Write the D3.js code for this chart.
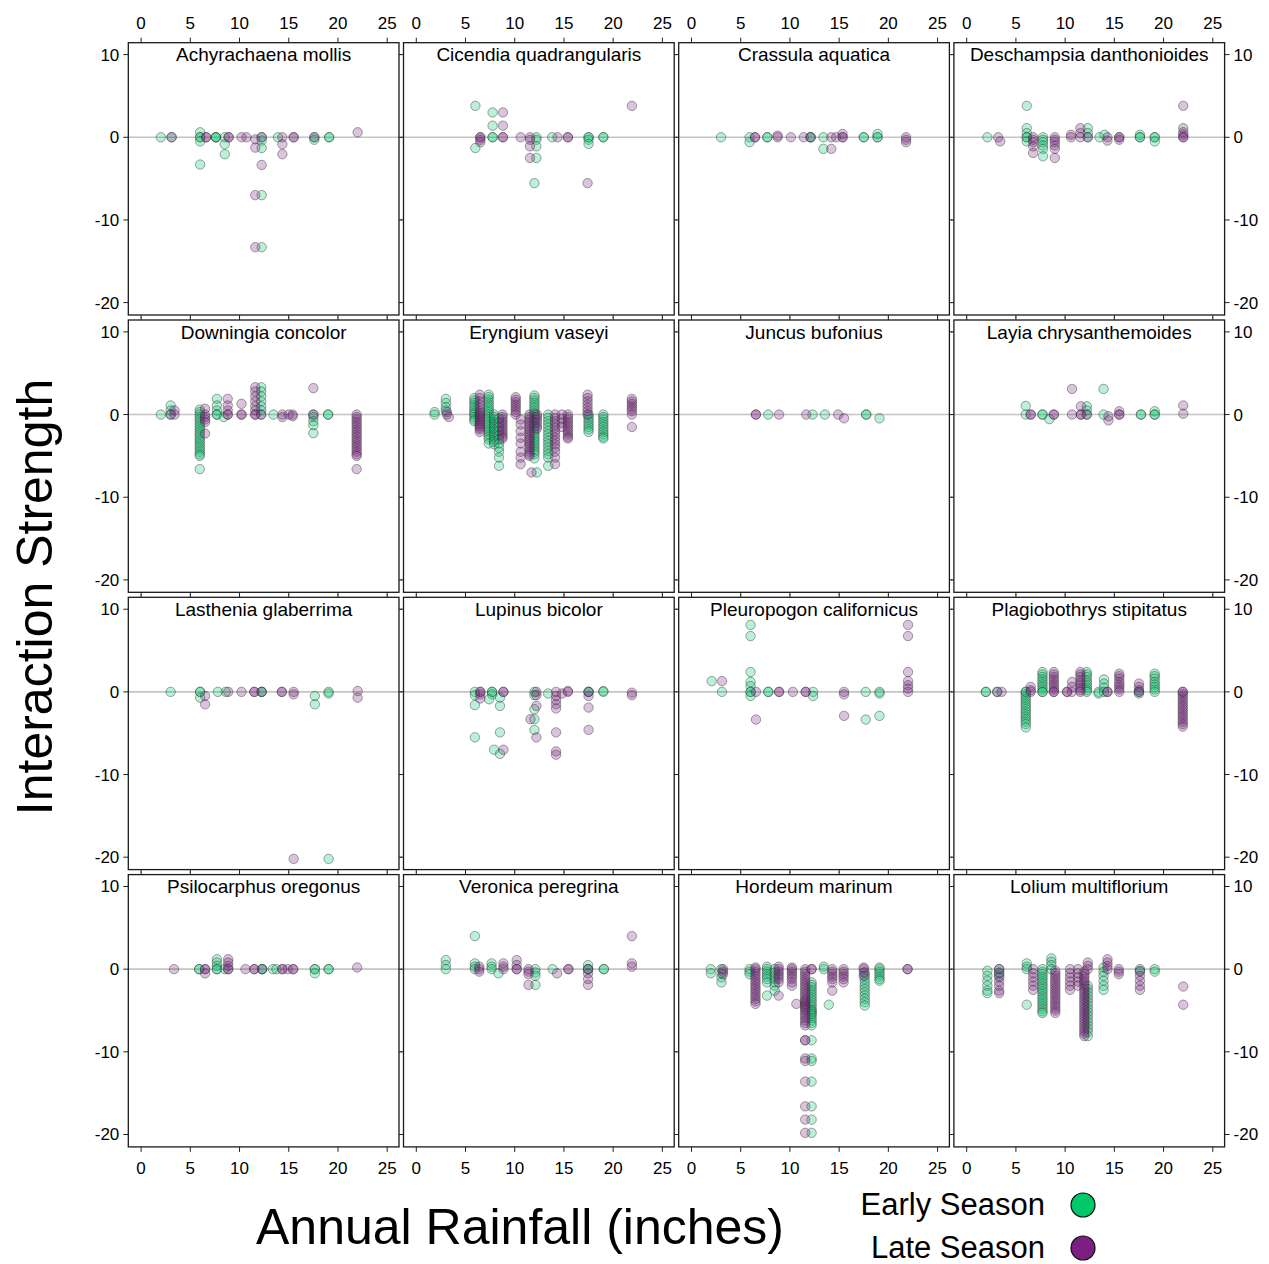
<!DOCTYPE html>
<html><head><meta charset="utf-8">
<script src="https://cdn.jsdelivr.net/npm/d3@7/dist/d3.min.js"></script>
<style>body{margin:0;background:#fff;}svg{display:block;font-family:"Liberation Sans",Arial,sans-serif;}</style>
</head><body>
<svg id="chart" width="1269" height="1264"></svg>
<script>
// ---------- data ----------
const species = ["Achyrachaena mollis","Cicendia quadrangularis","Crassula aquatica","Deschampsia danthonioides",
 "Downingia concolor","Eryngium vaseyi","Juncus bufonius","Layia chrysanthemoides",
 "Lasthenia glaberrima","Lupinus bicolor","Pleuropogon californicus","Plagiobothrys stipitatus",
 "Psilocarphus oregonus","Veronica peregrina","Hordeum marinum","Lolium multiflorium"];
const seasons = ["Early Season","Late Season"];
const xTicks = [0,5,10,15,20,25];
const yTicks = [10,0,-10,-20];

// each entry: [annual rainfall, [interaction strengths observed at that rainfall]]
const earlyData = [
 [[2.0,[0]],[3.1,[0]],[6.0,[0.6,0,0,-0.5,-3.3]],[7.6,[0,0,0]],[8.5,[0,-0.85,-2.05]],[12.25,[0,-0.4,-1.3,-7.0,-13.3]],[13.9,[0]],[17.6,[0,-0.3]],[19.1,[0,0]]],
 [[6.0,[3.8,-1.3]],[7.75,[3.0,1.4,0,0]],[12.2,[0,-0.3,-1.1,-2.5]],[12.0,[-5.55]],[13.8,[0]],[17.5,[0,0,-0.3,-0.8]],[19.0,[0,0]]],
 [[3.0,[0]],[5.9,[0,-0.6]],[7.7,[0,0]],[12.1,[0,0]],[13.4,[0,-1.4]],[17.5,[0,0]],[18.9,[0,0,0.4]]],
 [[2.1,[0]],[6.1,[3.8,1.1,0.5,0,0,-0.5]],[7.75,[0,-0.3,-0.6,-1.0,-1.4,-2.3]],[12.3,[1.1,0.5,0]],[13.5,[0]],[14.0,[0.3]],[17.6,[0.3,0,0]],[19.1,[0,0,-0.5]]],
 [[2.0,[0]],[3.0,[1.1,0.5,0]],[5.96,[0.6,0.3,0,-0.3,-0.6,-0.9,-1.2,-1.5,-1.8,-2.1,-2.4,-2.7,-3.0,-3.3,-3.6,-3.9,-4.2,-4.5,-4.8,-5.0,-6.6]],[7.7,[1.9,1.1,0.5,0,0]],[8.4,[-0.3]],[12.2,[3.3,2.8,2.2,1.6,1.0,0.5,0]],[13.45,[0]],[17.5,[0,-0.3,-0.8,-1.3,-2.25]],[19.0,[0,0]]],
 [[1.86,[0.3,0]],[3.0,[1.9,1.4,0.9,0.5]],[5.9,[2.0,1.7,1.4,1.1,0.8,0.5,0.2,0,-0.3,-0.6,-0.8]],[7.35,[2.4,2.1,1.8,1.5,1.2,0.9,0.6,0.3,0,-0.3,-0.6,-0.9,-1.2,-1.5,-1.8,-2.1,-2.4,-2.7,-3.0,-3.5]],[7.9,[0,-0.3,-0.6,-0.9,-1.2,-1.5,-1.8,-2.1,-2.4,-2.7,-3.0,-3.3,-3.6]],[8.4,[-0.5,-1,-1.5,-2,-2.5,-3,-3.5,-4,-4.5,-5.2,-6.2]],[12.0,[2.3,2.0,1.7,1.4,1.1,0.8,0.5,0.2,0,-0.3,-0.6,-0.9,-1.2,-1.5,-1.8,-2.1,-2.4,-2.7,-3.0,-3.3,-3.6,-3.9,-4.2,-4.5,-4.8,-5.3]],[12.25,[-7.0]],[13.4,[0,-0.4,-0.8,-1.2,-1.6,-2.0,-2.4,-2.8,-3.2,-3.6,-4.0,-4.4,-4.8,-5.2,-6.2]],[17.5,[0,-0.3,-0.6,-0.9,-1.2,-1.5,-1.8,-2.1]],[19.0,[0,-0.3,-0.6,-0.9,-1.2,-1.5,-1.8,-2.1,-2.4,-2.7,-2.9]]],
 [[7.8,[0]],[12.3,[0]],[13.55,[0]],[17.75,[0,0]],[19.1,[-0.45]]],
 [[6.0,[1.05,0]],[7.7,[0,0]],[8.4,[-0.55]],[12.2,[1.0,0.5,0]],[13.9,[3.1,0]],[17.7,[0,0]],[19.1,[0.4,0,0]]],
 [[3.0,[0]],[6.0,[0,0,-0.7]],[7.8,[0]],[8.6,[0]],[12.25,[0,0]],[17.65,[-0.5,-1.5]],[19.05,[0,-0.2,-20.2]]],
 [[5.95,[0,-0.4,-1.6,-5.5]],[7.7,[0,0,-0.3]],[7.4,[-0.9]],[8.5,[-0.7,-1.7,-4.9,-7.5]],[7.9,[-7.0]],[12.0,[0,-0.4,-2.1,-3.3,-4.6]],[13.4,[-0.2]],[17.5,[0,0]],[19.0,[0.1,0]]],
 [[2.05,[1.3]],[3.1,[0]],[6.0,[8.1,6.75,2.4,1.2,0.7,0,0,-0.5]],[7.8,[0,0]],[12.35,[0,-0.5]],[17.7,[0,-3.35]],[19.1,[0,-0.2,-2.9]]],
 [[1.95,[0,0]],[3.1,[0]],[6.0,[0,0,-0.3,-0.6,-0.9,-1.2,-1.5,-1.8,-2.1,-2.4,-2.7,-3.0,-3.3,-3.6,-3.9,-4.3]],[7.7,[2.4,2.1,1.8,1.5,1.2,0.9,0.6,0.3,0,0]],[12.2,[2.4,2.1,1.8,1.4,1.1,0.8,0.5,0.2,0]],[13.4,[0,-0.2]],[13.95,[1.5,1.0,0.5,0]],[17.5,[0,-0.2]],[19.1,[2.2,1.9,1.6,1.2,0.9,0.6,0.3,0]]],
 [[5.9,[0,0]],[7.7,[1.2,0.8,0.4,0,0]],[8.5,[0]],[12.3,[0,0]],[13.4,[0]],[13.75,[0]],[17.65,[0,0,-0.5]],[19.05,[0,0]]],
 [[3.0,[1.1,0.5,0]],[5.95,[4.0,0.7,0.3,0]],[7.65,[0.7,0.3,0]],[8.35,[-0.5]],[12.1,[0,-0.4,-0.8,-1.9]],[13.85,[0]],[17.45,[0.5,0,0]],[19.05,[0,0]]],
 [[1.96,[0,-0.5]],[3.04,[0,-0.5,-1.0,-1.6]],[5.9,[0,-0.3,-0.6]],[7.67,[0.3,0,-0.3,-0.6,-0.9,-1.2,-1.6,-3.2]],[8.45,[0,-0.4,-0.8,-1.2,-1.6,-2.0,-2.6]],[12.2,[-1.6,-1.9,-2.2,-2.5,-2.8,-3.1,-3.4,-3.7,-4.0,-4.3,-4.6,-4.9,-5.0,-5.2,-5.4,-5.6,-5.9,-6.2,-6.5,-6.8,-8.6,-10.8,-11.1,-13.6,-16.6,-18.2,-19.8]],[13.45,[0.3,0]],[13.95,[-4.3]],[17.6,[-0.4,-0.8,-1.2,-1.6,-2,-2.4,-2.8,-3.2,-3.6,-4.0,-4.4]],[19.1,[0.2,0,-0.3,-0.6,-0.9,-1.2,-1.4]]],
 [[2.1,[-0.2,-0.8,-1.4,-2.0,-2.6,-2.9]],[3.3,[0,-0.4,-0.8]],[6.1,[0.7,0.3,0,-4.3]],[7.7,[0,-0.3,-0.6,-0.9,-1.2,-1.5,-1.8,-2.1,-2.4,-2.7,-3.0,-3.3,-3.6,-3.9,-4.2,-4.5,-4.8,-5.1,-5.3]],[8.6,[1.3,0.9,0.5,0]],[12.3,[-2.0,-2.4,-2.8,-3.2,-3.6,-4.0,-4.4,-4.8,-5.2,-5.6,-6.0,-6.4,-6.8,-7.2,-7.6,-8.1]],[13.9,[0.2,-0.3,-0.8,-1.4,-2.0,-2.5]],[17.6,[0,-0.3]],[19.1,[0,-0.3]]]
];
const lateData = [
 [[3.1,[0]],[6.6,[0,0]],[8.9,[0,0]],[10.2,[0]],[10.7,[0]],[11.6,[-0.25,-1.25,-7.0,-13.3]],[12.25,[0,-3.35]],[14.35,[0,-0.85,-2.05]],[15.5,[0,0]],[17.6,[0]],[22.0,[0.6]]],
 [[6.5,[0,0,-0.3,-0.6]],[8.8,[3.0,1.4,0,0]],[10.6,[0]],[11.55,[0,-0.3,-1.1,-2.5]],[14.35,[0]],[15.4,[0,0]],[17.4,[-5.55]],[21.9,[3.8]]],
 [[6.45,[0,0]],[8.75,[0,0.2]],[10.1,[0]],[11.4,[0]],[12.1,[0]],[14.2,[0,-1.4]],[14.7,[0]],[15.35,[0,0,0.4]],[21.8,[0,-0.3,-0.6]]],
 [[3.2,[0]],[3.4,[-0.5]],[6.75,[0,-0.3,-0.6,-1.1,-1.9]],[8.95,[0,-0.3,-0.6,-1.0,-1.4,-2.5]],[10.6,[0.3,0]],[11.55,[1.1,0.5,0]],[12.3,[0]],[14.3,[0,-0.4]],[15.5,[0,0,-0.3]],[22.0,[3.8,1.1,0.6,0.3,0,0]]],
 [[3.0,[0]],[3.4,[0.5,0]],[6.5,[0.7,0,-0.3,-0.6,-0.9,-2.3]],[8.8,[1.9,1.1,0.5,0,0]],[10.2,[1.3,0,0]],[11.6,[3.3,2.8,2.2,1.6,1.0,0.5,0,0]],[12.2,[0]],[14.35,[0,-0.3]],[15.0,[0]],[15.4,[0,-0.2]],[17.5,[3.2,0]],[21.9,[0,-0.3,-0.6,-0.9,-1.2,-1.5,-1.8,-2.1,-2.4,-2.7,-3.0,-3.3,-3.6,-3.9,-4.2,-4.5,-4.8,-5.0,-6.6]]],
 [[3.1,[0.3,0]],[3.3,[-0.3]],[6.45,[2.4,2.0,1.6,1.2,0.8,0.4,0.2,0,-0.2,-0.4,-0.6,-0.8,-1.0,-1.2,-1.4,-1.6,-1.8,-2.1]],[8.75,[0,-0.3,-0.6,-0.9,-1.2,-1.5,-1.8,-2.1,-2.4,-2.7,-2.9]],[10.1,[2.1,1.8,1.5,1.2,0.9,0.6,0.3,0]],[10.6,[-0.6,-1.2,-2,-2.8,-3.5,-4.5,-5.2,-6.0]],[11.5,[0,-0.3,-0.6,-0.9,-1.2,-1.5,-1.8,-2.1,-2.4,-2.7,-3.0,-3.3,-3.6,-3.9,-4.2,-4.5,-4.8,-5.0]],[11.7,[-7.0]],[12.25,[0,-0.3,-0.6,-1.0,-1.4,-1.7]],[14.1,[0,-0.4,-0.8,-1.2,-1.6,-2.0,-2.4,-2.8,-3.2,-3.6,-4.0,-4.5,-5.2,-6.0]],[14.8,[0,-0.5,-1.0,-1.5]],[15.4,[0,-0.3,-0.6,-0.9,-1.2,-1.5,-1.8,-2.1,-2.4,-2.7,-2.9]],[17.4,[2.4,2.0,1.6,1.2,0.8,0.4,0]],[21.9,[1.9,1.6,1.3,1.0,0.7,0.4,0,-1.5]]],
 [[6.54,[0,0]],[8.9,[0]],[11.65,[0]],[14.9,[0]],[15.5,[-0.45]]],
 [[6.5,[0,0]],[8.85,[0,0]],[10.7,[3.1,0]],[11.6,[1.0,0,0]],[12.2,[0]],[14.4,[-0.2,-0.7]],[15.5,[0.4,0,0]],[22.0,[1.1,0.1]]],
 [[6.5,[-0.5,-1.5]],[8.85,[0]],[10.2,[0]],[11.5,[0,0]],[12.25,[0]],[14.3,[0,0]],[15.5,[0,-0.3,-20.2]],[22.0,[0.1,-0.7]]],
 [[6.5,[0,0,-0.3,-0.8]],[8.85,[0,0,-7.0]],[11.6,[-3.3]],[12.2,[0,-0.4,-1.7,-5.5]],[14.2,[0,-0.5,-1,-1.5,-2,-4.9,-7.2,-7.6]],[14.8,[-0.2]],[15.4,[0.1,0]],[17.5,[0,-0.5,-1.9,-4.6]],[21.9,[-0.1,-0.4]]],
 [[3.1,[1.3]],[6.55,[0,-3.35]],[8.9,[0,0]],[10.3,[0]],[11.6,[0,0]],[15.5,[0,-0.3,-2.9]],[22.0,[8.1,6.75,2.4,1.3,0.8,0.4,0]]],
 [[3.1,[0]],[3.55,[0]],[6.5,[0.6,0.2,0]],[8.85,[2.4,2.1,1.8,1.5,1.2,0.9,0.6,0.3,0,0]],[10.2,[0,0]],[10.7,[1.2,0.6,0]],[11.55,[2.4,2.1,1.8,1.4,1.1,0.8,0.5,0.2,0]],[14.3,[0,0]],[15.5,[2.2,1.9,1.6,1.2,0.9,0.6,0.3,0]],[17.5,[1.0,0.6,0.2,0]],[21.95,[0,0,-0.3,-0.6,-0.9,-1.2,-1.5,-1.8,-2.1,-2.4,-2.7,-3.0,-3.3,-3.6,-3.9,-4.2]]],
 [[3.35,[0]],[6.5,[0,0,-0.5]],[8.85,[1.2,0.8,0.4,0,0]],[10.6,[0]],[11.5,[0,0]],[12.3,[0]],[14.35,[0,0]],[14.9,[0]],[15.45,[0,0]],[21.95,[0.2]]],
 [[6.4,[0.3,0,-0.3]],[8.85,[0.7,0.3,0]],[10.2,[1.1,0.5,0,0]],[11.4,[0,-0.3,-0.6,-1.9]],[14.3,[-0.5]],[15.45,[0,0]],[17.45,[0,-0.5,-1.2,-1.9]],[21.9,[4.0,0.7,0.3]]],
 [[3.2,[0,-0.3,-0.6]],[6.5,[0.2,0,-0.3,-0.6,-0.9,-1.2,-1.5,-1.8,-2.1,-2.4,-2.7,-3.0,-3.3,-3.6,-3.9,-4.2]],[8.85,[0.3,0,-0.3,-0.6,-0.9,-1.2,-1.6,-3.2]],[10.2,[0.2,0,-0.3,-0.6,-0.9,-1.2,-1.6,-2.0]],[10.65,[-4.2]],[11.55,[0,-0.3,-0.6,-0.9,-1.2,-1.5,-1.8,-2.1,-2.4,-2.7,-3.0,-3.3,-3.6,-3.8,-4.0,-4.2,-4.4,-4.6,-4.8,-5.0,-5.3,-5.6,-5.9,-6.2,-6.5,-6.8,-8.6,-8.6,-10.8,-11.1,-13.6,-16.6,-18.2,-19.8]],[12.2,[0,0]],[14.3,[0,-0.3,-0.6,-0.9,-1.2,-1.6,-2.6]],[15.45,[0,-0.3,-0.6,-0.9,-1.2,-1.6]],[17.5,[0.2,0,-0.4,-0.8]],[21.95,[0,0]]],
 [[3.3,[0,-0.5,-1.0,-1.5,-2.0,-2.6,-2.9]],[6.75,[0,-0.5,-1.0,-1.5,-2.0,-2.5]],[9.0,[-0.2,-0.5,-0.8,-1.1,-1.4,-1.7,-2.0,-2.3,-2.6,-2.9,-3.2,-3.5,-3.8,-4.1,-4.4,-4.7,-5.0,-5.3]],[10.5,[0,-0.5,-1,-1.5,-2.0,-2.5]],[11.3,[0,-0.5,-1.0,-1.5,-2.0]],[11.95,[-0.3,-0.6,-0.9,-1.2,-1.5,-1.8,-2.1,-2.4,-2.7,-3.0,-3.3,-3.6,-3.9,-4.2,-4.5,-4.8,-5.1,-5.4,-5.7,-6.0,-6.3,-6.6,-6.9,-7.2,-7.5,-7.8,-8.1]],[12.3,[0.8,0.4,0]],[14.3,[1.2,0.8,0.4,0]],[15.45,[0,-0.3,-0.6]],[17.6,[-0.2,-0.8,-1.4,-2.0,-2.5]],[22.0,[-2.1,-4.3]]]
];
const seasonColors = ["#00C96B","#7B1F82"];

// ---------- layout ----------
const svg = d3.select("#chart");
const P = {left:128.3, top:42.7, w:270.7, h:272.3, colStep:275.2, rowStep:277.3};
const x = d3.scaleLinear().domain([-1.3,26.2]).range([0,P.w]);
const y = d3.scaleLinear().domain([11.44,-21.5]).range([0,P.h]);
const ncol = 4, nrow = 4;

species.forEach((name,i)=>{
  const col = i%ncol, row = Math.floor(i/ncol);
  const g = svg.append("g").attr("transform",`translate(${P.left+col*P.colStep},${P.top+row*P.rowStep})`);
  g.append("line").attr("x1",0).attr("x2",P.w).attr("y1",y(0)).attr("y2",y(0))
    .attr("stroke","#c4c4c4").attr("stroke-width",1.6);
  const tl = 3;
  xTicks.forEach(t=>{
    g.append("line").attr("x1",x(t)).attr("x2",x(t)).attr("y1",0).attr("y2",-(row===0?5:tl)).attr("stroke","#222");
    g.append("line").attr("x1",x(t)).attr("x2",x(t)).attr("y1",P.h).attr("y2",P.h+(row===nrow-1?5:tl)).attr("stroke","#222");
  });
  yTicks.forEach(t=>{
    g.append("line").attr("y1",y(t)).attr("y2",y(t)).attr("x1",0).attr("x2",-(col===0?5:tl)).attr("stroke","#222");
    g.append("line").attr("y1",y(t)).attr("y2",y(t)).attr("x1",P.w).attr("x2",P.w+(col===ncol-1?5:tl)).attr("stroke","#222");
  });
  [earlyData[i], lateData[i]].forEach((groups,s)=>{
    const pts = [];
    groups.forEach(([xv,ys])=>ys.forEach(yv=>pts.push([xv,yv])));
    g.append("g").selectAll("circle").data(pts).join("circle")
      .attr("cx",d=>x(d[0])).attr("cy",d=>y(d[1])).attr("r",4.7)
      .attr("fill",seasonColors[s]).attr("fill-opacity",0.27)
      .attr("stroke","#333").attr("stroke-opacity",0.55).attr("stroke-width",0.8);
  });
  g.append("rect").attr("width",P.w).attr("height",P.h).attr("fill","none").attr("stroke","#1a1a1a").attr("stroke-width",1.3);
  g.append("text").attr("x",P.w/2).attr("y",18.5).attr("text-anchor","middle")
    .attr("font-size",19).attr("fill","#000").text(name);
  if(row===0) xTicks.forEach(t=>g.append("text").attr("x",x(t)).attr("y",-14).attr("text-anchor","middle").attr("font-size",17).text(t));
  if(row===nrow-1) xTicks.forEach(t=>g.append("text").attr("x",x(t)).attr("y",P.h+27).attr("text-anchor","middle").attr("font-size",17).text(t));
  if(col===0) yTicks.forEach(t=>g.append("text").attr("x",-9).attr("y",y(t)+6).attr("text-anchor","end").attr("font-size",17).text(t));
  if(col===ncol-1) yTicks.forEach(t=>g.append("text").attr("x",P.w+9).attr("y",y(t)+6).attr("text-anchor","start").attr("font-size",17).text(t));
});

svg.append("text").attr("transform","translate(52,597) rotate(-90)").attr("text-anchor","middle")
  .attr("font-size",50).text("Interaction Strength");
svg.append("text").attr("x",520).attr("y",1244).attr("text-anchor","middle")
  .attr("font-size",50).text("Annual Rainfall (inches)");

seasons.forEach((s,k)=>{
  const cy = 1205 + k*43;
  svg.append("text").attr("x",1045).attr("y",cy+10).attr("text-anchor","end").attr("font-size",31).text(s);
  svg.append("circle").attr("cx",1083).attr("cy",cy).attr("r",12).attr("fill",seasonColors[k]).attr("stroke","#111").attr("stroke-width",1.2);
});
</script>
</body></html>
